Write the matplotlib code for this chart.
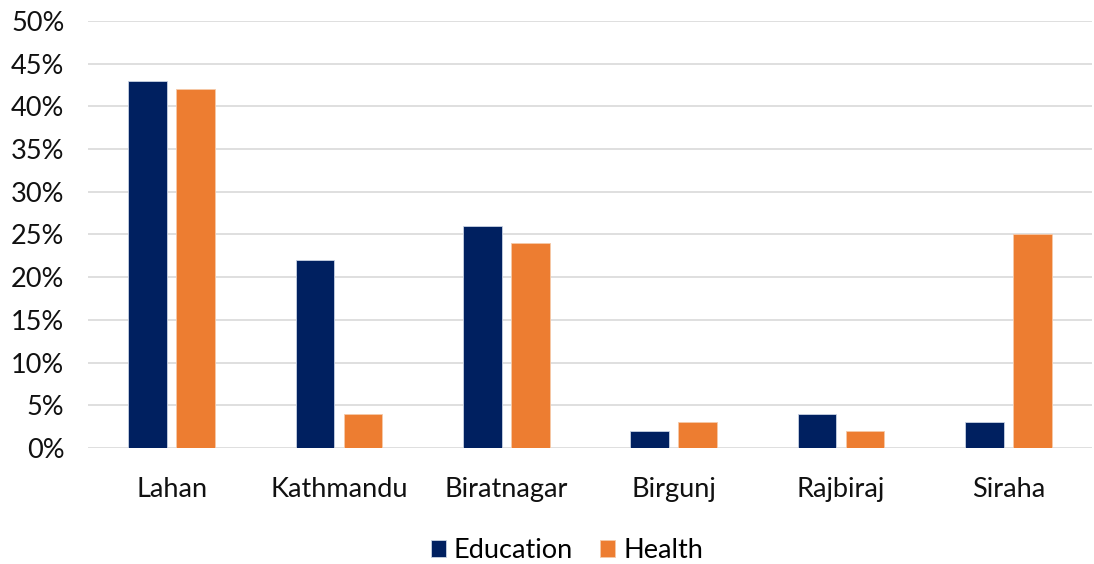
import matplotlib
matplotlib.use("Agg")
import matplotlib.pyplot as plt
import numpy as np
from matplotlib.ticker import FuncFormatter

cities = ["Lahan", "Kathmandu", "Biratnagar", "Birgunj", "Rajbiraj", "Siraha"]
education = [43, 22, 26, 2, 4, 3]
health = [42, 4, 24, 3, 2, 25]
y_ticks = [0, 5, 10, 15, 20, 25, 30, 35, 40, 45, 50]

plt.rcParams["font.family"] = ["Lato", "DejaVu Sans"]

fig = plt.figure(figsize=(10.94, 5.64), dpi=100)
ax = fig.add_axes([88 / 1094, 1 - 448 / 564, 1004 / 1094, 427 / 564])

x = np.arange(len(cities))
w = 0.23
off = 0.143
ax.bar(x - off, education, width=w, color="#002060", edgecolor="#c9d2e3",
       linewidth=0.6, label="Education", zorder=3)
ax.bar(x + off, health, width=w, color="#ED7D31", edgecolor="#f6c9a8",
       linewidth=0.6, label="Health", zorder=3)

ax.set_xlim(-0.5, len(cities) - 0.5)
ax.set_ylim(0, 50)
ax.set_yticks(y_ticks)
ax.yaxis.set_major_formatter(FuncFormatter(lambda v, p: f"{v:.0f}%"))
ax.set_xticks(x)
ax.set_xticklabels(cities)
ax.tick_params(axis="both", length=0, labelsize=19.5, colors="#111111")
ax.tick_params(axis="x", pad=21)
ax.tick_params(axis="y", pad=17)

ax.grid(axis="y", color="#d9d9d9", linewidth=1.2, zorder=0)
for s in ax.spines.values():
    s.set_visible(False)

ax.legend(loc="center", bbox_to_anchor=(0.477, -0.24), ncol=2, frameon=False,
          fontsize=19.5, handlelength=0.55, handleheight=0.55, handletextpad=0.3,
          columnspacing=1.0)

fig.savefig("out.png", dpi=100)
